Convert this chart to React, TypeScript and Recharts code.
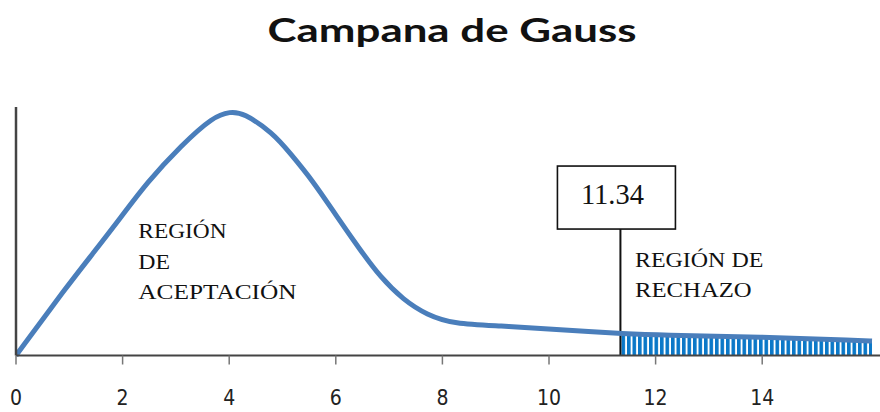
import React from "react";
import {
  ComposedChart,
  Line,
  Area,
  XAxis,
  YAxis,
  ReferenceLine,
} from "recharts";

// ---- data ----
const xValues = [0, 0.95, 1.45, 1.98, 2.45, 3.11, 3.7, 4.02, 4.26, 4.82, 5.14, 5.58, 6.02, 6.46, 6.83, 7.27, 7.71, 8.21, 9.1, 10.02, 10.77, 11.34, 12.09, 13.96, 15.85, 16.06];
const densityValues = [0, 28.1, 41.9, 56.8, 70.6, 86.1, 97.7, 99.7, 99.3, 91.0, 82.8, 71.1, 56.8, 43.1, 32.2, 22.7, 16.6, 12.9, 12.1, 10.8, 9.7, 9.0, 8.3, 7.6, 6.1, 5.9];
const xTicks = [0, 2, 4, 6, 8, 10, 12, 14];
const criticalValue = 11.34;
const criticalLabel = "11.34";
const boxBottomValue = 51.7;
const titleText = "Campana de Gauss";
const acceptLines = ["REGIÓN", "DE", "ACEPTACIÓN"];
const rejectLines = ["REGIÓN DE", "RECHAZO"];

const data = xValues.map((x, i) => ({
  x,
  density: densityValues[i],
  rechazo: x >= criticalValue ? densityValues[i] : null,
}));

const LINE_BLUE = "#4a7ebb";
const BAR_BLUE = "#0a78c8";
const SERIF = "'Liberation Serif', 'Times New Roman', serif";

const Tick = (props: any) => {
  const { x, y, payload } = props;
  return (
    <text
      x={x}
      y={y}
      dy={40}
      textAnchor="middle"
      fontFamily="'Liberation Sans Narrow', 'DejaVu Sans Condensed', sans-serif"
      fontSize={21}
      fill="#222"
    >
      {payload.value}
    </text>
  );
};

const BoxLabel = (props: any) => {
  const vb = props.viewBox || {};
  const cx = vb.x ?? 0;
  const top = vb.y ?? 0;
  return (
    <g>
      <rect x={cx - 63} y={top - 63} width={118} height={63} fill="#fff" stroke="#111" strokeWidth={1.6} />
      <text
        x={cx - 8}
        y={top - 25}
        textAnchor="middle"
        fontFamily={SERIF}
        fontSize={29}
        fill="#111"
        textLength={63}
        lengthAdjust="spacingAndGlyphs"
      >
        {criticalLabel}
      </text>
    </g>
  );
};

export default function App() {
  return (
    <div style={{ position: "absolute", left: 0, top: 0, width: 880, height: 412, background: "#fff" }}>
      <ComposedChart
        width={880}
        height={412}
        data={data}
        margin={{ top: 107, right: 0, left: 15, bottom: 0 }}
      >
        <defs>
          <pattern id="hatch" patternUnits="userSpaceOnUse" width={5.5} height={20}>
            <rect x={0} y={0} width={3.6} height={20} fill={BAR_BLUE} />
          </pattern>
        </defs>
        <XAxis
          dataKey="x"
          type="number"
          domain={[0, 16.21]}
          ticks={xTicks}
          allowDataOverflow
          height={56.5}
          axisLine={{ stroke: "#444", strokeWidth: 2 }}
          tickLine={{ stroke: "#777", strokeWidth: 1.5 }}
          tickSize={9}
          tickMargin={0}
          tick={<Tick />}
        />
        <YAxis
          type="number"
          domain={[0, 101.6]}
          width={1}
          tick={false}
          tickLine={false}
          axisLine={{ stroke: "#444", strokeWidth: 2.5 }}
        />
        <Area
          dataKey="rechazo"
          type="basis"
          stroke="none"
          fill="url(#hatch)"
          fillOpacity={1}
          isAnimationActive={false}
          dot={false}
          activeDot={false}
        />
        <ReferenceLine
          segment={[
            { x: criticalValue, y: 0 },
            { x: criticalValue, y: boxBottomValue },
          ]}
          stroke="#111"
          strokeWidth={2}
          label={<BoxLabel />}
        />
        <Line
          dataKey="density"
          type="basis"
          stroke={LINE_BLUE}
          strokeWidth={5}
          dot={false}
          activeDot={false}
          isAnimationActive={false}
        />
      </ComposedChart>
      <svg
        width={880}
        height={412}
        style={{ position: "absolute", left: 0, top: 0, pointerEvents: "none" }}
      >
        <text
          x={452}
          y={42}
          textAnchor="middle"
          fontFamily="Lato, 'Open Sans', sans-serif"
          fontWeight={700}
          fontSize={33}
          fill="#111"
          textLength={369}
          lengthAdjust="spacingAndGlyphs"
        >
          {titleText}
        </text>
        {acceptLines.map((t, i) => (
          <text
            key={t}
            x={138.3}
            y={238.3 + i * 30.5}
            fontFamily={SERIF}
            fontSize={22}
            fill="#111"
            textLength={[88.3, 31.7, 158.3][i]}
            lengthAdjust="spacingAndGlyphs"
          >
            {t}
          </text>
        ))}
        {rejectLines.map((t, i) => (
          <text
            key={t}
            x={635}
            y={266.7 + i * 30}
            fontFamily={SERIF}
            fontSize={22}
            fill="#111"
            textLength={[128.3, 116.7][i]}
            lengthAdjust="spacingAndGlyphs"
          >
            {t}
          </text>
        ))}
      </svg>
    </div>
  );
}
